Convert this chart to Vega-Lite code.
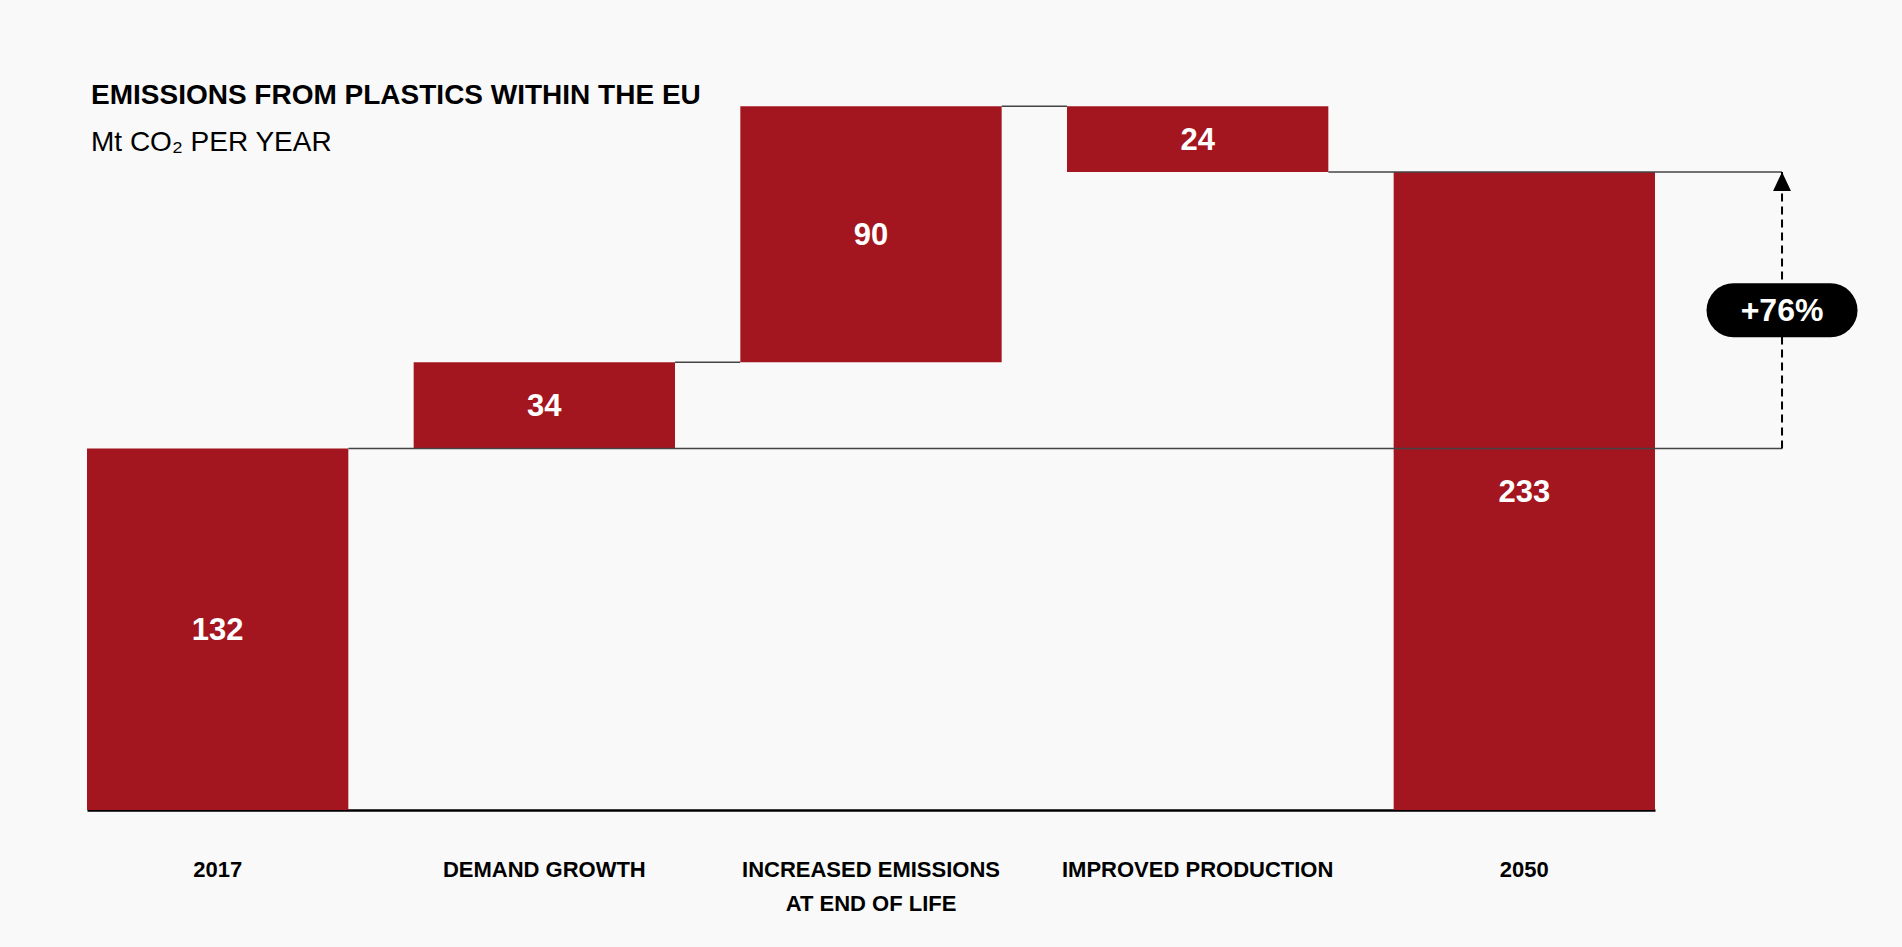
{
  "$schema": "https://vega.github.io/schema/vega-lite/v6.json",
  "width": 1568,
  "height": 712,
  "autosize": {"type": "none"},
  "padding": {"left": 87, "top": 98, "right": 247, "bottom": 137},
  "background": "#f9f9f9",
  "title": {
    "text": "EMISSIONS FROM PLASTICS WITHIN THE EU",
    "subtitle": "Mt CO₂ PER YEAR",
    "anchor": "start",
    "orient": "top",
    "offset": -59,
    "dx": 4,
    "font": "Liberation Sans",
    "fontSize": 28,
    "fontWeight": "bold",
    "color": "#000000",
    "subtitleFont": "Liberation Sans",
    "subtitleFontSize": 28,
    "subtitleFontWeight": "normal",
    "subtitleColor": "#000000",
    "subtitlePadding": 19
  },
  "config": {
    "view": {"stroke": null},
    "axis": {"grid": false}
  },
  "datasets": {
    "bars": [
      {"cat": "2017", "start": 0, "end": 132, "label": "132"},
      {"cat": "DEMAND GROWTH", "start": 132, "end": 163.5, "label": "34"},
      {"cat": "INCREASED EMISSIONS AT END OF LIFE", "start": 163.5, "end": 257, "label": "90"},
      {"cat": "IMPROVED PRODUCTION", "start": 257, "end": 233, "label": "24"},
      {"cat": "2050", "start": 0, "end": 233, "label": "233"}
    ],
    "steps": [
      {"cat": "DEMAND GROWTH", "to": "INCREASED EMISSIONS AT END OF LIFE", "level": 163.5},
      {"cat": "INCREASED EMISSIONS AT END OF LIFE", "to": "IMPROVED PRODUCTION", "level": 257}
    ],
    "refs": [
      {"cat": "2017", "to": "2050", "level": 132},
      {"cat": "IMPROVED PRODUCTION", "to": "2050", "level": 233}
    ],
    "change": [
      {"cat": "2050", "from": 132, "to": 233, "text": "+76%"}
    ]
  },
  "encoding": {
    "x": {
      "field": "cat",
      "type": "nominal",
      "scale": {
        "domain": ["2017", "DEMAND GROWTH", "INCREASED EMISSIONS AT END OF LIFE", "IMPROVED PRODUCTION", "2050"],
        "paddingInner": 0.2,
        "paddingOuter": 0
      },
      "axis": {
        "title": null,
        "labelAngle": 0,
        "ticks": false,
        "domain": true,
        "domainColor": "#000000",
        "domainWidth": 2.5,
        "labelFont": "Liberation Sans",
        "labelFontSize": 22,
        "labelFontWeight": "bold",
        "labelColor": "#000000",
        "labelPadding": 49,
        "labelLineHeight": 34,
        "labelBaseline": "top",
        "labelLimit": 400,
        "labelExpr": "datum.value == 'INCREASED EMISSIONS AT END OF LIFE' ? ['INCREASED EMISSIONS', 'AT END OF LIFE'] : datum.value"
      }
    }
  },
  "layer": [
    {
      "data": {"name": "bars"},
      "mark": {"type": "bar", "color": "#a3151f"},
      "encoding": {
        "y": {"field": "start", "type": "quantitative", "scale": {"domain": [0, 260], "nice": false}, "axis": null},
        "y2": {"field": "end"}
      }
    },
    {
      "data": {"name": "steps"},
      "mark": {"type": "rule", "color": "#444444", "strokeWidth": 1.5, "xOffset": 130.7, "x2Offset": -130.7},
      "encoding": {
        "x2": {"field": "to"},
        "y": {"field": "level", "type": "quantitative"}
      }
    },
    {
      "data": {"name": "refs"},
      "mark": {"type": "rule", "color": "#444444", "strokeWidth": 1.5, "xOffset": 130.7, "x2Offset": 257.7},
      "encoding": {
        "x2": {"field": "to"},
        "y": {"field": "level", "type": "quantitative"}
      }
    },
    {
      "data": {"name": "bars"},
      "transform": [
        {"fold": ["start", "end"], "as": ["edge", "v"]},
        {"aggregate": [{"op": "mean", "field": "v", "as": "mid"}], "groupby": ["cat", "label"]}
      ],
      "mark": {"type": "text", "color": "#ffffff", "font": "Liberation Sans", "fontSize": 31, "fontWeight": "bold", "baseline": "middle", "align": "center", "dy": 2},
      "encoding": {
        "y": {"field": "mid", "type": "quantitative"},
        "text": {"field": "label"}
      }
    },
    {
      "data": {"name": "change"},
      "mark": {"type": "rule", "color": "#000000", "strokeWidth": 2, "strokeDash": [8, 5], "xOffset": 257.7},
      "encoding": {
        "y": {"field": "from", "type": "quantitative"},
        "y2": {"field": "to"}
      }
    },
    {
      "data": {"name": "change"},
      "mark": {"type": "point", "shape": "M0,0L0.47,1L-0.47,1Z", "size": 1444, "filled": true, "color": "#000000", "opacity": 1, "strokeWidth": 0, "xOffset": 257.7},
      "encoding": {
        "y": {"field": "to", "type": "quantitative"}
      }
    },
    {
      "data": {"name": "change"},
      "transform": [
        {"fold": ["from", "to"], "as": ["edge", "v"]},
        {"aggregate": [{"op": "mean", "field": "v", "as": "mid"}], "groupby": ["cat", "text"]}
      ],
      "mark": {"type": "rule", "color": "#000000", "strokeWidth": 54, "strokeCap": "round", "xOffset": 209.2, "x2Offset": 306.2},
      "encoding": {
        "x2": {"field": "cat"},
        "y": {"field": "mid", "type": "quantitative"}
      }
    },
    {
      "data": {"name": "change"},
      "transform": [
        {"fold": ["from", "to"], "as": ["edge", "v"]},
        {"aggregate": [{"op": "mean", "field": "v", "as": "mid"}], "groupby": ["cat", "text"]}
      ],
      "mark": {"type": "text", "color": "#ffffff", "font": "Liberation Sans", "fontSize": 32, "fontWeight": "bold", "baseline": "middle", "align": "center", "xOffset": 257.7, "dy": 1},
      "encoding": {
        "y": {"field": "mid", "type": "quantitative"},
        "text": {"field": "text"}
      }
    }
  ]
}
